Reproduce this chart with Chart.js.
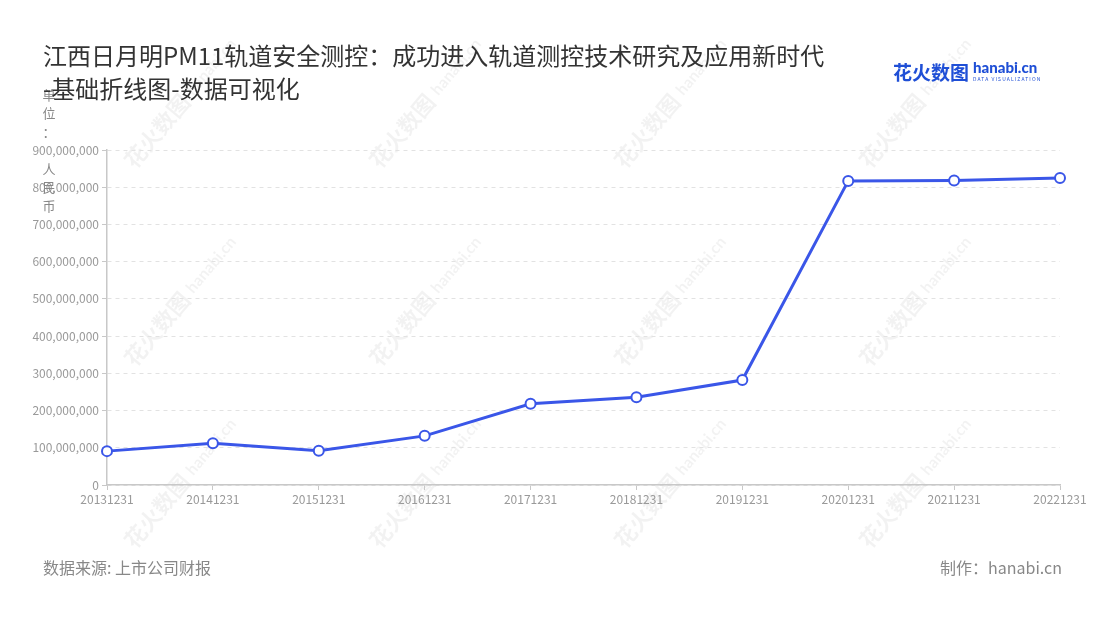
<!DOCTYPE html>
<html>
<head>
<meta charset="utf-8">
<script src="https://cdn.jsdelivr.net/npm/chart.js@4.4.1/dist/chart.umd.min.js"></script>
<style>
  body { margin: 0; background: #fff; font-family: "Noto Sans CJK SC", "Noto Sans", sans-serif; }
  #wrap { position: relative; width: 1100px; height: 620px; overflow: hidden; }
  #chart { position: absolute; left: 0; top: 0; }
  .title { position: absolute; left: 43px; top: 38px; font-size: 24px; line-height: 33px; color: #333; }
  .source { position: absolute; left: 43px; top: 555px; font-size: 16px; color: #888; }
  .maker { position: absolute; right: 38px; top: 555px; font-size: 16px; color: #888; }
  .logo { position: absolute; left: 893px; top: 58px; color: #1f4fd6; white-space: nowrap; }
  .logo .cn { font-size: 19px; font-weight: 700; vertical-align: top; }
  .logo .en { display: inline-block; margin-left: 4px; vertical-align: top; line-height: 1; }
  .logo .en b { display: block; font-size: 15px; font-family: "Lato", sans-serif; font-weight: 900; margin-top: 2px; }
  .logo .en i { display: block; font-style: normal; font-size: 5px; letter-spacing: 1.1px; margin-top: 1px; }
</style>
</head>
<body>
<div id="wrap">
  <canvas id="chart" width="1100" height="620"></canvas>
  <div class="title">江西日月明PM11轨道安全测控：成功进入轨道测控技术研究及应用新时代<br>-基础折线图-数据可视化</div>
  <div class="logo"><span class="cn">花火数图</span><span class="en"><b>hanabi.cn</b><i>DATA VISUALIZATION</i></span></div>
  <div class="source">数据来源: 上市公司财报</div>
  <div class="maker">制作：hanabi.cn</div>
</div>
<script>
// 年报日期和数值（人民币）
const dates = ["20131231", "20141231", "20151231", "20161231", "20171231",
               "20181231", "20191231", "20201231", "20211231", "20221231"];
const values = [91000000, 112000000, 92000000, 132000000, 218000000,
                236000000, 282000000, 817000000, 818000000, 825000000];
const unitChars = ["单", "位", "：", "", "人", "民", "币"];

const lineColor = "#3a56e8";

// 水印 + 纵向单位文字
const decor = {
    id: "decor",
    beforeDraw(chart) {
        const ctx = chart.ctx;
        ctx.save();
        ctx.fillStyle = "#fff";
        ctx.fillRect(0, 0, chart.width, chart.height);
        ctx.fillStyle = "rgba(0,0,0,0.05)";
        const xs = [135, 380, 625, 870];
        const ys = [170, 368, 550];
        xs.forEach(x => ys.forEach(y => {
            ctx.save();
            ctx.translate(x, y);
            ctx.rotate(-0.87);
            ctx.font = "bold 22px 'Noto Sans CJK SC'";
            ctx.fillText("花火数图", 0, 0);
            ctx.font = "bold 16px Lato";
            ctx.fillText("hanabi.cn", 94, -3);
            ctx.restore();
        }));
        ctx.restore();
    },
    afterDraw(chart) {
        const ctx = chart.ctx;
        ctx.save();
        ctx.fillStyle = "#888";
        ctx.font = "13px 'Noto Sans CJK SC'";
        ctx.textAlign = "center";
        ctx.textBaseline = "middle";
        unitChars.forEach((c, i) => ctx.fillText(c, 49, 95 + i * 18.5));
        ctx.restore();
    }
};

new Chart(document.getElementById("chart"), {
    type: "line",
    data: {
        labels: dates,
        datasets: [{
            data: values,
            borderColor: lineColor,
            borderWidth: 3,
            backgroundColor: "#fff",
            pointBackgroundColor: "#fff",
            pointBorderColor: lineColor,
            pointBorderWidth: 2,
            pointRadius: 5,
            tension: 0
        }]
    },
    options: {
        responsive: false,
        animation: false,
        layout: { padding: { left: 0, top: 150, right: 40, bottom: 0 } },
        plugins: { legend: { display: false }, tooltip: { enabled: false } },
        scales: {
            x: {
                offset: false,
                grid: { drawOnChartArea: false, color: "#c8c8c8", tickLength: 5 },
                border: { color: "#c8c8c8", width: 1.5 },
                ticks: { color: "#999", font: { size: 12, family: "'Noto Sans CJK SC'" }, padding: 2, maxRotation: 0, autoSkip: false },
                afterFit(scale) { scale.height = 135; }
            },
            y: {
                min: 0,
                max: 900000000,
                grid: { color: "#e2e2e2", tickColor: "#c8c8c8", tickLength: 5, tickBorderDash: [] },
                border: { color: "#c8c8c8", width: 1.5, dash: [4, 4] },
                ticks: {
                    stepSize: 100000000,
                    color: "#999",
                    padding: 3,
                    font: { size: 12, family: "'Noto Sans CJK SC'" },
                    callback: v => v.toLocaleString("en-US")
                },
                afterFit(scale) { scale.width = 107; }
            }
        }
    },
    plugins: [decor]
});
</script>
</body>
</html>
